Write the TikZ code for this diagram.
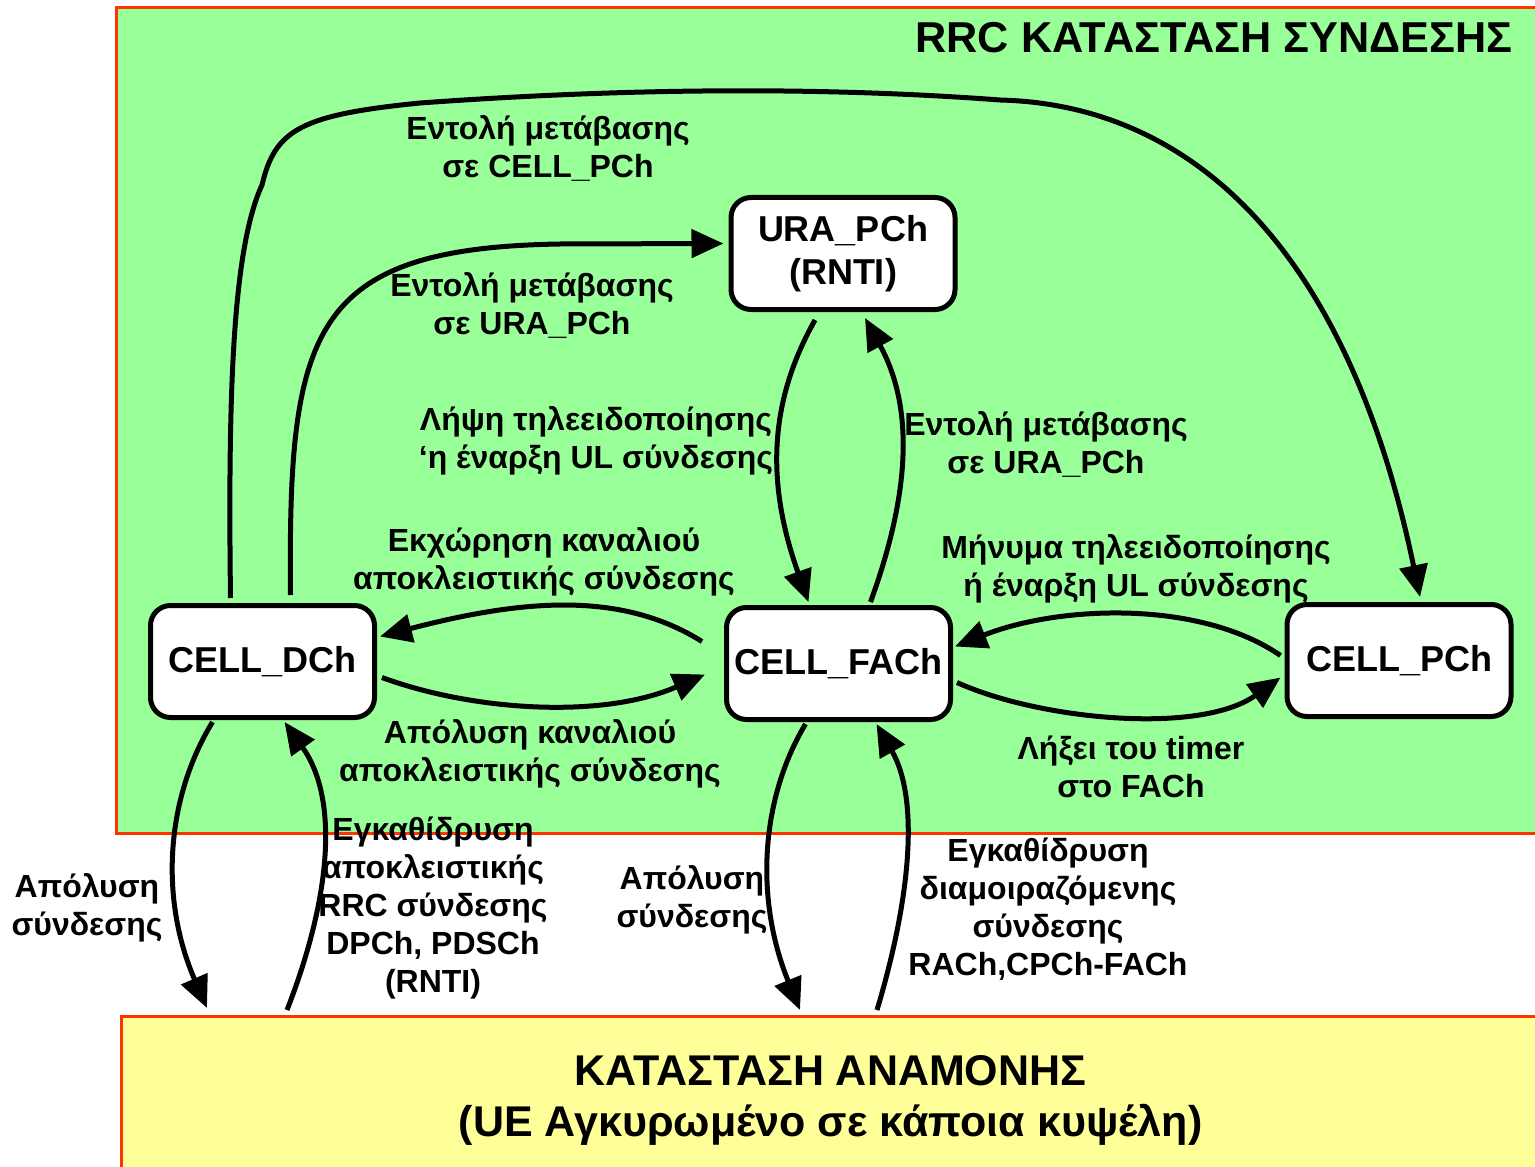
\documentclass[tikz,border=0pt]{standalone}
\usepackage{fontspec}
\setmainfont{Liberation Sans}
\usetikzlibrary{arrows.meta,calc}
\definecolor{rrcgreen}{HTML}{99FF99}
\definecolor{idleyellow}{HTML}{FFFF99}
\definecolor{framered}{HTML}{FF3300}
\begin{document}
\begin{tikzpicture}[x=0.5pt,y=-0.5pt,
  state/.style={draw=black, line width=2.5pt, rounded corners=10pt, fill=white,
    minimum width=112pt, minimum height=56pt, align=center, inner sep=0pt,
    font=\fontsize{18}{21.5}\selectfont\bfseries},
  lbl/.style={align=center, inner sep=0pt, font=\fontsize{16}{19}\selectfont\bfseries},
  conn/.style={line width=2.5pt, -{Triangle[length=16pt,width=14pt]}},
  area/.style={draw=framered, line width=1.5pt}
]
\useasboundingbox (0,0) rectangle (1535,1166);
\clip (0,0) rectangle (1535,1166);

% connection state area
\draw[area, fill=rrcgreen] (116,8) rectangle (1545,833);
\node[anchor=east, inner sep=0pt, font=\fontsize{21.6}{25}\selectfont\bfseries] (title) at (1513,38) {RRC ΚΑΤΑΣΤΑΣΗ ΣΥΝΔΕΣΗΣ};

% idle state
\node[area, fill=idleyellow, outer sep=0pt, minimum width=709.5pt, minimum height=79pt] (idle) at (830.5,1095) {};
\node[align=center, inner sep=0pt, font=\fontsize{21.5}{25.5}\selectfont\bfseries] (idletext)
  at ($(idle.center)+(0,5.5)$) {ΚΑΤΑΣΤΑΣΗ ΑΝΑΜΟΝΗΣ\\(UE Αγκυρωμένο σε κάποια κυψέλη)};

% labels
\node[lbl] (l1) at (548,148) {Εντολή μετάβασης\\σε CELL\_PCh};
\node[lbl] (l2) at (532,305) {Εντολή μετάβασης\\σε URA\_PCh};
\node[lbl] (l3) at (596,441) {Λήψη τηλεειδοποίησης\\‘η έναρξη UL σύνδεσης};
\node[lbl] (l4) at (1046,444) {Εντολή μετάβασης\\σε URA\_PCh};
\node[lbl] (l5) at (544,562) {Εκχώρηση καναλιού\\αποκλειστικής σύνδεσης};
\node[lbl] (l6) at (1136,569) {Μήνυμα τηλεειδοποίησης\\ή έναρξη UL σύνδεσης};
\node[lbl] (l7) at (530,754) {Απόλυση καναλιού\\αποκλειστικής σύνδεσης};
\node[lbl] (l8) at (1131,767) {Λήξει του timer\\στο FACh};
\node[lbl] (l9) at (87,908) {Απόλυση\\σύνδεσης};
\node[lbl] (l10) at (433,908) {Εγκαθίδρυση\\αποκλειστικής\\RRC σύνδεσης\\DPCh, PDSCh\\(RNTI)};
\node[lbl] (l11) at (692,900) {Απόλυση\\σύνδεσης};
\node[lbl] (l12) at (1048,909) {Εγκαθίδρυση\\διαμοιραζόμενης\\σύνδεσης\\RACh,CPCh-FACh};

% states
\node[state] (ura) at (843,253.5) {URA\_PCh\\(RNTI)};
\node[state] (dch) at (262.5,661.5) {CELL\_DCh};
\node[state] (fach) at (838.5,663.5) {CELL\_FACh};
\node[state] (pch) at (1399,660.5) {CELL\_PCh};

% connectors
\draw[conn] ($(dch.north)+(-32,-5)$) .. controls (228,400) and (232,250) .. (262,185)
  .. controls (275,130) and (300,115) .. (420,103)
  .. controls (600,90) and (800,85) .. (1000,100)
  .. controls (1200,105) and (1350,260) .. ($(pch.north)+(21,-5)$);
\draw[conn] ($(dch.north)+(28,-8)$) .. controls (288,330) and (310,248) .. (560,244)
  -- ($(ura.west)+(-5,-10)$);
\draw[conn] ($(ura.south)+(-28,8)$) .. controls (770,400) and (765,480) .. ($(fach.north)+(-30,-3)$);
\draw[conn] ($(fach.north)+(32,-3)$) .. controls (915,480) and (910,400) .. ($(ura.south)+(22,6)$);
\draw[conn] ($(fach.west)+(-22,-22)$) .. controls (620,590) and (520,600) .. ($(dch.east)+(3,-25)$);
\draw[conn] ($(dch.east)+(5,16)$) .. controls (470,710) and (600,720) .. ($(fach.west)+(-19,11)$);
\draw[conn] ($(pch.west)+(-4,-5)$) .. controls (1200,600) and (1060,605) .. ($(fach.east)+(2,-17)$);
\draw[conn] ($(fach.east)+(4,19)$) .. controls (1040,720) and (1200,735) .. ($(pch.west)+(-4,17)$);
\draw[conn] ($(dch.south)+(-50,2)$) .. controls (165,800) and (160,900) .. ($(idle.north west)+(86,-8)$);
\draw[conn] ($(idle.north west)+(166,-6)$) .. controls (330,900) and (340,800) .. ($(dch.south)+(22,2)$);
\draw[conn] ($(fach.south)+(-33,2)$) .. controls (760,800) and (755,900) .. ($(idle.north west)+(679,-6)$);
\draw[conn] ($(idle.north west)+(756,-6)$) .. controls (910,900) and (920,800) .. ($(fach.south)+(38,2)$);
\end{tikzpicture}
\end{document}
